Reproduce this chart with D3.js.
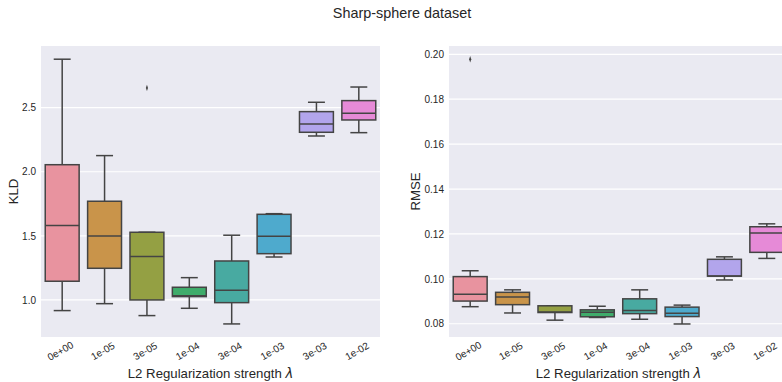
<!DOCTYPE html>
<html>
<head>
<meta charset="utf-8">
<script src="https://cdn.jsdelivr.net/npm/d3@7"></script>
<style>
  body { margin: 0; background: #fff; }
  text { font-family: "Liberation Sans", Arial, sans-serif; }
</style>
</head>
<body>
<div id="chart"></div>
<script>
// categories (L2 regularization strength)
const categories = ['0e+00', '1e-05', '3e-05', '1e-04', '3e-04', '1e-03', '3e-03', '1e-02'];
const palette = ['#e8939f', '#c9944a', '#94a043', '#3fac6b', '#48aaa1', '#4eaacd', '#b2a5ec', '#e68ad7'];

// KLD summaries: [low whisker, q1, median, q3, high whisker]
const kldStats = [
  [0.917, 1.146, 1.580, 2.055, 2.878],
  [0.971, 1.247, 1.499, 1.770, 2.126],
  [0.878, 1.000, 1.338, 1.528, 1.528],
  [0.935, 1.026, 1.032, 1.099, 1.174],
  [0.813, 0.979, 1.076, 1.304, 1.505],
  [1.335, 1.361, 1.497, 1.668, 1.673],
  [2.279, 2.308, 2.373, 2.469, 2.542],
  [2.305, 2.404, 2.456, 2.555, 2.661]
];
const kldOutliers = [[], [], [2.654], [], [], [], [], []];
const kldTicks = [1.0, 1.5, 2.0, 2.5];

// RMSE summaries
const rmseStats = [
  [0.0876, 0.0901, 0.0931, 0.1010, 0.1036],
  [0.0848, 0.0885, 0.0919, 0.0940, 0.0951],
  [0.0816, 0.0850, 0.0852, 0.0880, 0.0880],
  [0.0828, 0.0831, 0.0851, 0.0862, 0.0878],
  [0.0820, 0.0845, 0.0859, 0.0911, 0.0951],
  [0.0799, 0.0832, 0.0847, 0.0874, 0.0883],
  [0.0995, 0.1012, 0.1013, 0.1087, 0.1098],
  [0.1091, 0.1118, 0.1204, 0.1232, 0.1245]
];
const rmseOutliers = [[0.1978], [], [], [], [], [], [], []];
const rmseTicks = [0.08, 0.10, 0.12, 0.14, 0.16, 0.18, 0.20];

const W = 782, H = 382;
const svg = d3.select('#chart').append('svg')
  .attr('width', W).attr('height', H);

svg.append('text')
  .attr('x', 402).attr('y', 18)
  .attr('text-anchor', 'middle')
  .attr('font-size', 14.4)
  .attr('fill', '#262626')
  .text('Sharp-sphere dataset');

function drawPanel(opts) {
  const { left, top, width, height, stats, outliers, ticks, domain, ylabel, ylabelX, fmt } = opts;
  const g = svg.append('g').attr('transform', `translate(${left},${top})`);

  const x = d3.scaleBand().domain(categories).range([0, width]).padding(0);
  const y = d3.scaleLinear().domain(domain).range([height, 0]);

  g.append('rect')
    .attr('width', width).attr('height', height)
    .attr('fill', '#eaeaf2');

  g.selectAll('line.grid')
    .data(ticks)
    .join('line')
      .attr('class', 'grid')
      .attr('x1', 0).attr('x2', width)
      .attr('y1', d => y(d)).attr('y2', d => y(d))
      .attr('stroke', '#fff').attr('stroke-width', 1.2);

  // y axis
  const yAxis = g.append('g')
    .call(d3.axisLeft(y).tickValues(ticks).tickSize(0).tickPadding(5).tickFormat(fmt));
  yAxis.select('.domain').remove();
  yAxis.selectAll('text')
    .attr('font-size', 10)
    .attr('fill', '#262626')
    .style('font-family', '"Liberation Sans", Arial, sans-serif');

  // x axis
  const xAxis = g.append('g')
    .attr('transform', `translate(0,${height})`)
    .call(d3.axisBottom(x).tickSize(0).tickPadding(0));
  xAxis.select('.domain').remove();
  xAxis.selectAll('text')
    .attr('font-size', 10)
    .attr('fill', '#262626')
    .attr('text-anchor', 'middle')
    .attr('dy', 0)
    .attr('transform', 'translate(0,17) rotate(-30)')
    .style('font-family', '"Liberation Sans", Arial, sans-serif');

  const bw = x.bandwidth() * 0.8;
  const line = '#444';
  const boxes = g.selectAll('g.box')
    .data(stats.map((s, i) => ({ s, i, cat: categories[i] })))
    .join('g')
      .attr('class', 'box')
      .attr('transform', d => `translate(${x(d.cat) + x.bandwidth() / 2},0)`);

  // whiskers
  boxes.append('line')
    .attr('x1', 0).attr('x2', 0)
    .attr('y1', d => y(d.s[0])).attr('y2', d => y(d.s[1]))
    .attr('stroke', line).attr('stroke-width', 1.5);
  boxes.append('line')
    .attr('x1', 0).attr('x2', 0)
    .attr('y1', d => y(d.s[3])).attr('y2', d => y(d.s[4]))
    .attr('stroke', line).attr('stroke-width', 1.5);
  boxes.append('line')
    .attr('x1', -bw / 4).attr('x2', bw / 4)
    .attr('y1', d => y(d.s[0])).attr('y2', d => y(d.s[0]))
    .attr('stroke', line).attr('stroke-width', 1.5);
  boxes.append('line')
    .attr('x1', -bw / 4).attr('x2', bw / 4)
    .attr('y1', d => y(d.s[4])).attr('y2', d => y(d.s[4]))
    .attr('stroke', line).attr('stroke-width', 1.5);

  // box
  boxes.append('rect')
    .attr('x', -bw / 2).attr('width', bw)
    .attr('y', d => y(d.s[3]))
    .attr('height', d => y(d.s[1]) - y(d.s[3]))
    .attr('fill', d => palette[d.i])
    .attr('stroke', line).attr('stroke-width', 1.5);

  // median
  boxes.append('line')
    .attr('x1', -bw / 2).attr('x2', bw / 2)
    .attr('y1', d => y(d.s[2])).attr('y2', d => y(d.s[2]))
    .attr('stroke', line).attr('stroke-width', 1.5);

  // outliers (small diamonds)
  boxes.selectAll('path.out')
    .data(d => outliers[d.i])
    .join('path')
      .attr('class', 'out')
      .attr('d', d3.symbol(d3.symbolDiamond, 8))
      .attr('transform', v => `translate(0,${y(v)}) scale(0.7,1.2)`)
      .attr('fill', line);

  // labels
  svg.append('text')
    .attr('transform', `translate(${ylabelX},${top + height / 2}) rotate(-90)`)
    .attr('text-anchor', 'middle')
    .attr('font-size', 13.2)
    .attr('fill', '#262626')
    .text(ylabel);

  const xl = svg.append('text')
    .attr('x', left + width / 2).attr('y', top + height + 41)
    .attr('text-anchor', 'middle')
    .attr('font-size', 13.2)
    .attr('fill', '#262626');
  xl.append('tspan').text('L2 Regularization strength ');
  xl.append('tspan').attr('font-style', 'italic').style('font-family', '"DejaVu Sans", sans-serif').text('λ');
}

drawPanel({
  left: 41, top: 46, width: 339, height: 291,
  stats: kldStats, outliers: kldOutliers, ticks: kldTicks,
  domain: [0.711, 2.981], ylabel: 'KLD', ylabelX: 18,
  fmt: d3.format('.1f')
});

drawPanel({
  left: 449, top: 46, width: 339, height: 291,
  stats: rmseStats, outliers: rmseOutliers, ticks: rmseTicks,
  domain: [0.0741, 0.2037], ylabel: 'RMSE', ylabelX: 420,
  fmt: d3.format('.2f')
});
</script>
</body>
</html>
